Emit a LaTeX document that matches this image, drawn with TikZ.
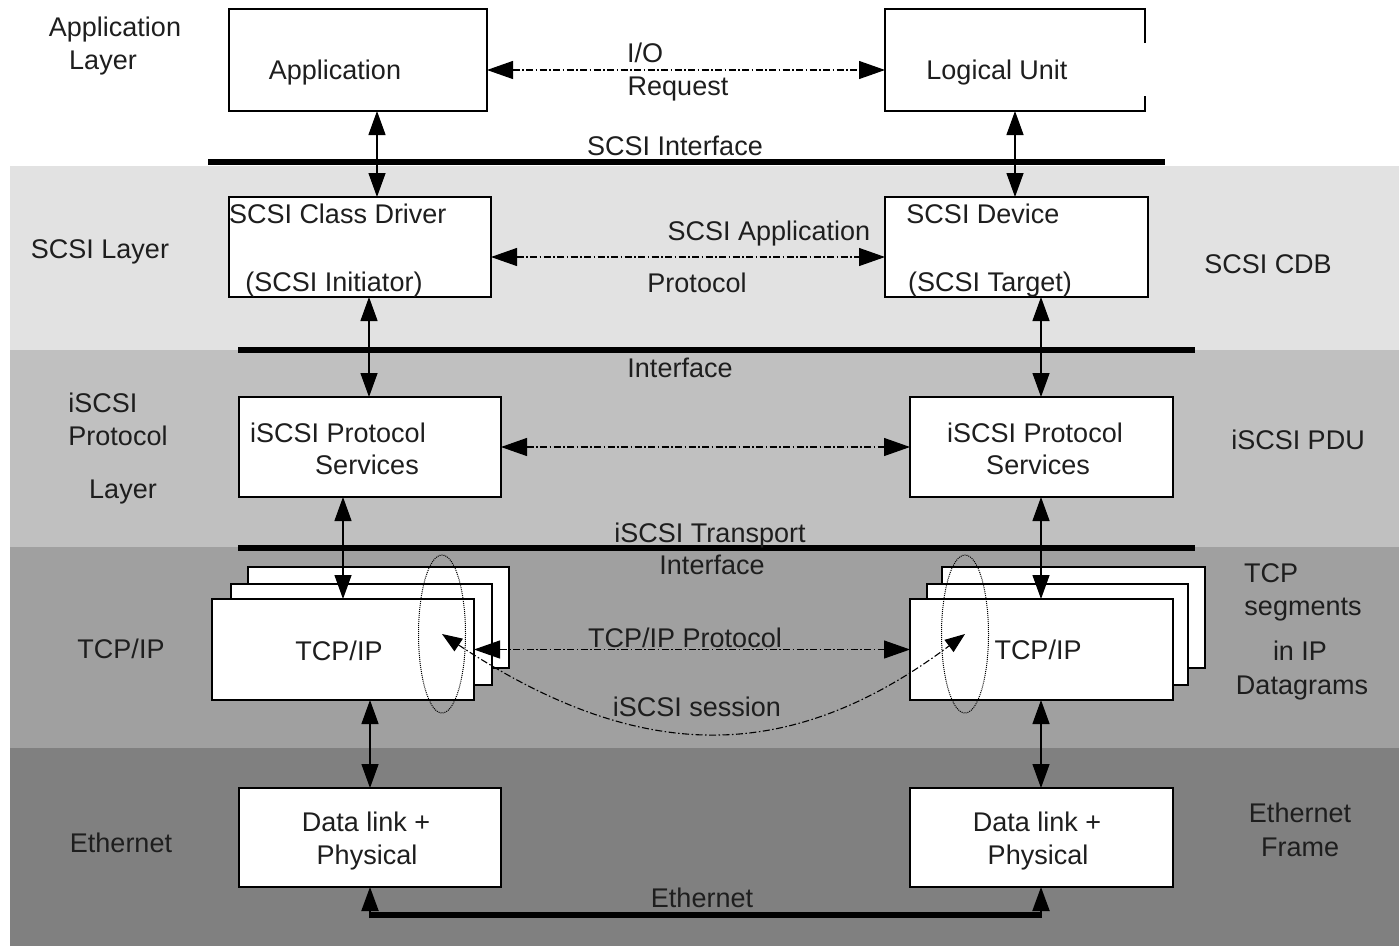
\documentclass[tikz,border=0pt]{standalone}
\usepackage{fontspec}
\setmainfont{Liberation Sans}
\usetikzlibrary{arrows.meta,shapes.geometric}
\definecolor{bandA}{HTML}{E2E2E2}
\definecolor{bandB}{HTML}{C0C0C0}
\definecolor{bandC}{HTML}{A0A0A0}
\definecolor{bandD}{HTML}{808080}
\definecolor{txt}{HTML}{1E1E1E}
\begin{document}
\begin{tikzpicture}[x=1pt,y=-1pt,
  font=\fontsize{27}{33}\selectfont,
  every node/.style={inner sep=0pt, outer sep=0pt},
  lbl/.style={text=txt, text depth=0pt},
  box/.style={draw, line width=1.4pt, fill=white},
  dbl/.style={line width=1.3pt, {Triangle[length=24pt,width=17pt]}-{Triangle[length=24pt,width=17pt]}},
  dd/.style={line width=1.1pt, dash pattern=on 7pt off 2.5pt on 1.5pt off 2.5pt,
     {Triangle[length=26pt,width=18pt]}-{Triangle[length=26pt,width=18pt]}},
  ses/.style={line width=1.1pt, dash pattern=on 7pt off 2.5pt on 1.5pt off 2.5pt,
     {Triangle[length=20pt,width=15pt]}-{Triangle[length=20pt,width=15pt]}},
  iface/.style={line width=6pt},
  oval/.style={ellipse, draw, densely dotted, line width=1pt, minimum width=47pt, minimum height=158pt}
]
\useasboundingbox (0,0) rectangle (1399,946);
% bands
\fill[bandA] (10,166) rectangle (1399,350);
\fill[bandB] (10,350) rectangle (1399,547);
\fill[bandC] (10,547) rectangle (1399,748);
\fill[bandD] (10,748) rectangle (1399,946);

% interface lines
\draw[iface] (208,162) -- (1165,162);
\draw[iface] (238,350) -- (1195,350);
\draw[iface] (238,548) -- (1195,548);

% boxes
\node[box, minimum width=258pt, minimum height=102pt] (app) at (358,60) {};
\node[minimum width=260pt, minimum height=102pt] (lu) at (1015,60) {};
\fill[white] (lu.north west) rectangle (lu.south east);
\draw[line width=1.4pt] ([yshift=-34pt]lu.north east) -- (lu.north east) -- (lu.north west) -- (lu.south west) -- (lu.south east) -- ([yshift=15pt]lu.south east);
\node[box, minimum width=262pt, minimum height=100pt] (drv) at (360,247) {};
\node[box, minimum width=263pt, minimum height=100pt] (dev) at (1016.5,247) {};
\node[box, minimum width=262pt, minimum height=100pt] (ipsL) at (370,447) {};
\node[box, minimum width=263pt, minimum height=100pt] (ipsR) at (1041.5,447) {};
\node[box, minimum width=261pt, minimum height=101pt] (tcpL3) at (378.5,617.5) {};
\node[box, minimum width=261pt, minimum height=101pt] (tcpL2) at (361.5,634.5) {};
\node[box, minimum width=262pt, minimum height=101pt] (tcpL) at (343,649.5) {};
\node[box, minimum width=263pt, minimum height=101pt] (tcpR3) at (1073.5,617.5) {};
\node[box, minimum width=261pt, minimum height=101pt] (tcpR2) at (1057.5,634.5) {};
\node[box, minimum width=263pt, minimum height=101pt] (tcpR) at (1041.5,649.5) {};
\node[box, minimum width=262pt, minimum height=99pt] (dlL) at (370,837.5) {};
\node[box, minimum width=263pt, minimum height=99pt] (dlR) at (1041.5,837.5) {};

% box texts
\node[lbl] (tApp) at (335,70) {Application};
\node[lbl] (tLU) at (997,70) {Logical Unit};
\node[lbl, anchor=west] (tDrv1) at (229,214) {SCSI Class Driver};
\node[lbl] (tDrv2) at (334,282) {(SCSI Initiator)};
\node[lbl] (tDev1) at (983,214) {SCSI Device};
\node[lbl] (tDev2) at (990,282) {(SCSI Target)};
\node[lbl] (tIpsL1) at (338,433) {iSCSI Protocol};
\node[lbl] (tIpsL2) at (367,465) {Services};
\node[lbl] (tIpsR1) at (1035,433) {iSCSI Protocol};
\node[lbl] (tIpsR2) at (1038,465) {Services};
\node[lbl] (tTcpL) at (339,651) {TCP/IP};
\node[lbl] (tTcpR) at (1038,650) {TCP/IP};
\node[lbl] (tDlL1) at (366,822) {Data link +};
\node[lbl] (tDlL2) at (367,855) {Physical};
\node[lbl] (tDlR1) at (1037,822) {Data link +};
\node[lbl] (tDlR2) at (1038,855) {Physical};

% dotted ovals
\node[oval] (ovL) at (442,634) {};
\node[oval] (ovR) at (965,634) {};

% vertical arrows
\draw[dbl] ([xshift=19pt]app.south) -- ([xshift=17pt]drv.north);
\draw[dbl] (lu.south) -- ([xshift=-1.5pt]dev.north);
\draw[dbl] ([xshift=9pt]drv.south) -- ([xshift=-1pt]ipsL.north);
\draw[dbl] ([xshift=24.5pt]dev.south) -- ([xshift=-0.5pt]ipsR.north);
\draw[dbl] ([xshift=-27pt]ipsL.south) -- (tcpL.north);
\draw[dbl] ([xshift=-0.5pt]ipsR.south) -- ([xshift=-0.5pt]tcpR.north);
\draw[dbl] ([xshift=27pt]tcpL.south) -- (dlL.north);
\draw[dbl] ([xshift=-0.5pt]tcpR.south) -- ([xshift=-0.5pt]dlR.north);

% ethernet
\coordinate (eL) at (370,915);
\coordinate (eR) at (1041,915);
\draw[line width=6pt] (eL) -- (eR);
\draw[line width=2pt, -{Triangle[length=24pt,width=17pt]}] ([yshift=-3pt]eL) -- (dlL.south);
\draw[line width=2pt, -{Triangle[length=24pt,width=17pt]}] ([yshift=-3pt]eR) -- (eR |- dlR.south);

% horizontal dash-dot arrows
\draw[dd] ([yshift=-10pt]app.east) -- ([yshift=-10pt]lu.west);
\draw[dd] ([yshift=-10pt]drv.east) -- ([yshift=-10pt]dev.west);
\draw[dd] (ipsL.east) -- (ipsR.west);
\draw[dd] (tcpL.east) -- (tcpR.west);
\draw[ses] (ovL.center) .. controls (640,765) and (790,765) .. (ovR.center);

% connector labels
\node[lbl] (lIO) at (645,53) {I/O};
\node[lbl] (lReq) at (678,86) {Request};
\node[lbl] (lSI) at (675,146) {SCSI Interface};
\node[lbl] (lSAP1) at (769,231) {SCSI Application};
\node[lbl] (lSAP2) at (697,283) {Protocol};
\node[lbl] (lIf) at (680,368) {Interface};
\node[lbl] (lTr1) at (710,533) {iSCSI Transport};
\node[lbl] (lTr2) at (712,565) {Interface};
\node[lbl] (lTcpP) at (685,638) {TCP/IP Protocol};
\node[lbl] (lSes) at (697,707) {iSCSI session};
\node[lbl] (lEth) at (702,898) {Ethernet};

% left labels
\node[lbl] (ll1) at (115,27) {Application};
\node[lbl] (ll2) at (103,60) {Layer};
\node[lbl] (ll3) at (100,249) {SCSI Layer};
\node[lbl] (ll4) at (103,403) {iSCSI};
\node[lbl] (ll5) at (118,436) {Protocol};
\node[lbl] (ll6) at (123,489) {Layer};
\node[lbl] (ll7) at (121,649) {TCP/IP};
\node[lbl] (ll8) at (121,843) {Ethernet};

% right labels
\node[lbl] (rl1) at (1268,264) {SCSI CDB};
\node[lbl] (rl2) at (1298,440) {iSCSI PDU};
\node[lbl] (rl3) at (1271,573) {TCP};
\node[lbl] (rl4) at (1303,607) {segments};
\node[lbl] (rl5) at (1300,651) {in IP};
\node[lbl] (rl6) at (1302,685) {Datagrams};
\node[lbl] (rl7) at (1300,813) {Ethernet};
\node[lbl] (rl8) at (1300,847) {Frame};
\end{tikzpicture}
\end{document}
